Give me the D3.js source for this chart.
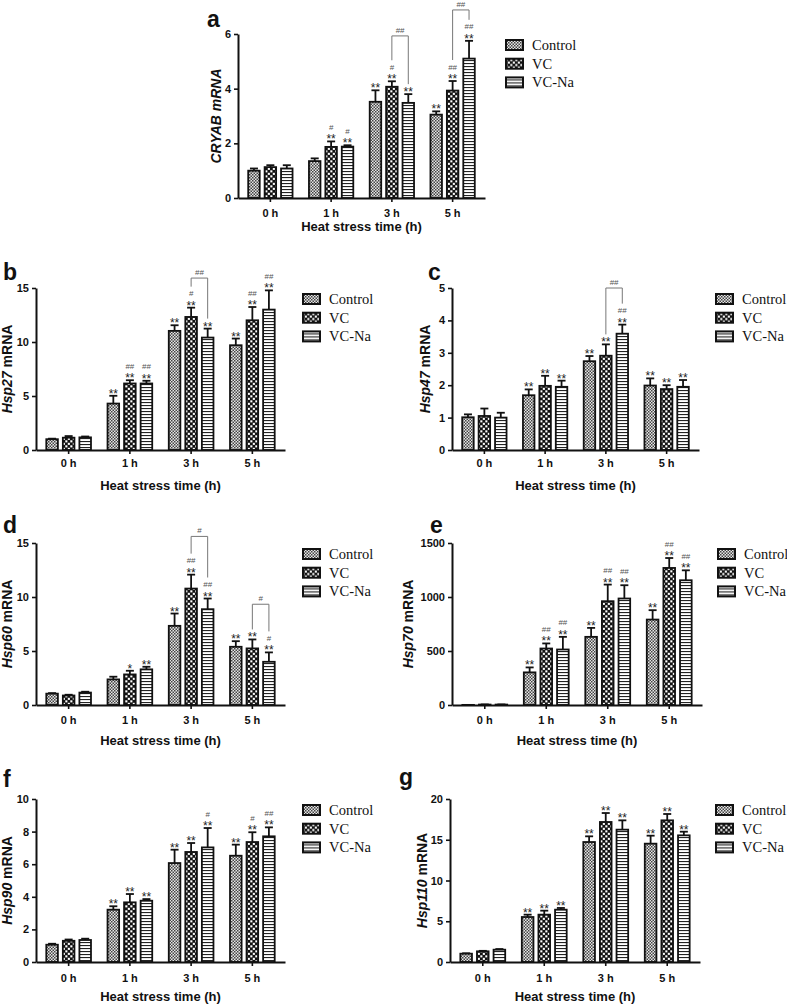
<!DOCTYPE html>
<html><head><meta charset="utf-8">
<script src="https://cdn.jsdelivr.net/npm/d3@7"></script>
<style>body{margin:0;background:#fff}svg{display:block}</style>
</head><body>
<svg id="chart" width="787" height="1004"></svg>
<script>
const groups = ["0 h","1 h","3 h","5 h"];
const series = ["Control","VC","VC-Na"];

// ---- Panel a : CRYAB ----
const aTicks = [0,2,4,6];
const aControl = [1.00,1.35,3.52,3.05], aControlErr = [0.08,0.10,0.42,0.12];
const aVC      = [1.13,1.87,4.07,3.93], aVCErr      = [0.07,0.20,0.20,0.35];
const aVCNa    = [1.08,1.88,3.48,5.10], aVCNaErr    = [0.12,0.05,0.32,0.65];
const aStars = [["","","**","**"],["","**","**","**"],["","**","**","**"]];
const aHash  = [["","","",""],["","#","#","##"],["","#","","##"]];
const aBrackets = [{group:"3 h",from:"VC",to:"VC-Na",top:5.93,label:"##"},{group:"5 h",from:"VC",to:"VC-Na",top:6.88,label:"##"}];

// ---- Panel b : Hsp27 ----
const bTicks = [0,5,10,15];
const bControl = [1.00,4.30,11.03,9.70], bControlErr = [0.05,0.72,0.52,0.62];
const bVC      = [1.14,6.16,12.32,12.01], bVCErr     = [0.15,0.30,0.86,1.23];
const bVCNa    = [1.17,6.16,10.41,13.00], bVCNaErr   = [0.08,0.25,0.83,1.78];
const bStars = [["","**","**","**"],["","**","**","**"],["","**","**","**"]];
const bHash  = [["","","",""],["","##","#","##"],["","##","","##"]];
const bBrackets = [{group:"3 h",from:"VC",to:"VC-Na",top:15.92,label:"##"}];

// ---- Panel c : Hsp47 ----
const cTicks = [0,1,2,3,4,5];
const cControl = [1.01,1.69,2.74,1.99], cControlErr = [0.09,0.18,0.16,0.22];
const cVC      = [1.05,1.98,2.91,1.88], cVCErr      = [0.23,0.31,0.35,0.12];
const cVCNa    = [1.00,1.95,3.59,1.95], cVCNaErr    = [0.15,0.19,0.28,0.21];
const cStars = [["","**","**","**"],["","**","**","**"],["","**","**","**"]];
const cHash  = [["","","",""],["","","",""],["","","##",""]];
const cBrackets = [{group:"3 h",from:"VC",to:"VC-Na",top:5.0,label:"##"}];

// ---- Panel d : Hsp60 ----
const dTicks = [0,5,10,15];
const dControl = [1.05,2.37,7.33,5.39], dControlErr = [0.05,0.25,1.14,0.52];
const dVC      = [0.88,2.83,10.78,5.24], dVCErr     = [0.07,0.34,1.29,0.83];
const dVCNa    = [1.15,3.30,8.87,4.00], dVCNaErr    = [0.08,0.24,0.99,0.87];
const dStars = [["","","**","**"],["","*","**","**"],["","**","**","**"]];
const dHash  = [["","","",""],["","","##",""],["","","##","#"]];
const dBrackets = [{group:"3 h",from:"VC",to:"VC-Na",top:15.61,label:"#"},{group:"5 h",from:"VC",to:"VC-Na",top:9.33,label:"#"}];

// ---- Panel e : Hsp70 ----
const eTicks = [0,500,1000,1500];
const eControl = [1,302,631,791], eControlErr = [0,46,83,87];
const eVC      = [4,523,961,1269], eVCErr     = [1,47,154,92];
const eVCNa    = [4,514,986,1155], eVCNaErr   = [1,117,123,92];
const eStars = [["","**","**","**"],["","**","**","**"],["","**","**","**"]];
const eHash  = [["","","",""],["","##","##","##"],["","##","##","##"]];
const eBrackets = [];

// ---- Panel f : Hsp90 ----
const fTicks = [0,2,4,6,8,10];
const fControl = [1.06,3.21,6.07,6.52], fControlErr = [0.06,0.21,0.82,0.68];
const fVC      = [1.30,3.66,6.75,7.36], fVCErr      = [0.08,0.51,0.55,0.60];
const fVCNa    = [1.35,3.76,7.03,7.71], fVCNaErr    = [0.08,0.10,1.19,0.55];
const fStars = [["","**","**","**"],["","**","**","**"],["","**","**","**"]];
const fHash  = [["","","",""],["","","","#"],["","","#","##"]];
const fBrackets = [];

// ---- Panel g : Hsp110 ----
const gTicks = [0,5,10,15,20];
const gControl = [1.02,5.52,14.72,14.52], gControlErr = [0.05,0.29,0.70,0.98];
const gVC      = [1.31,5.81,17.18,17.38], gVCErr      = [0.06,0.49,1.10,0.78];
const gVCNa    = [1.51,6.42,16.24,15.54], gVCNaErr    = [0.08,0.21,1.14,0.45];
const gStars = [["","**","**","**"],["","**","**","**"],["","**","**","**"]];
const gHash  = [["","","",""],["","","",""],["","","",""]];
const gBrackets = [];

const panels = [
  {letter:"a", gene:"CRYAB", allItalic:true, ticks:aTicks, vals:[aControl,aVC,aVCNa], errs:[aControlErr,aVCErr,aVCNaErr], stars:aStars, hash:aHash, brackets:aBrackets,
   L:{ax:238,yTop:34,y0:198,w:247,lx:505,ly:45,tickY:217,titleY:231,letX:207,letY:27,ylx:221}},
  {letter:"b", gene:"Hsp27", ticks:bTicks, vals:[bControl,bVC,bVCNa], errs:[bControlErr,bVCErr,bVCNaErr], stars:bStars, hash:bHash, brackets:bBrackets,
   L:{ax:36,yTop:288,y0:450,w:249,lx:302,ly:299,tickY:467,titleY:490,letX:3,letY:280,ylx:12}},
  {letter:"c", gene:"Hsp47", ticks:cTicks, vals:[cControl,cVC,cVCNa], errs:[cControlErr,cVCErr,cVCNaErr], stars:cStars, hash:cHash, brackets:cBrackets,
   L:{ax:452,yTop:288,y0:450,w:247,lx:715,ly:299,tickY:467,titleY:490,letX:428,letY:280,ylx:430}},
  {letter:"d", gene:"Hsp60", ticks:dTicks, vals:[dControl,dVC,dVCNa], errs:[dControlErr,dVCErr,dVCNaErr], stars:dStars, hash:dHash, brackets:dBrackets,
   L:{ax:36,yTop:543,y0:705,w:249,lx:302,ly:554,tickY:724,titleY:745,letX:3,letY:533,ylx:12}},
  {letter:"e", gene:"Hsp70", ticks:eTicks, vals:[eControl,eVC,eVCNa], errs:[eControlErr,eVCErr,eVCNaErr], stars:eStars, hash:eHash, brackets:eBrackets,
   L:{ax:452,yTop:543,y0:705,w:250,lx:717,ly:554,tickY:724,titleY:745,letX:430,letY:533,ylx:413}},
  {letter:"f", gene:"Hsp90", ticks:fTicks, vals:[fControl,fVC,fVCNa], errs:[fControlErr,fVCErr,fVCNaErr], stars:fStars, hash:fHash, brackets:fBrackets,
   L:{ax:36,yTop:799,y0:962,w:249,lx:302,ly:810,tickY:982,titleY:1001,letX:3,letY:787,ylx:12}},
  {letter:"g", gene:"Hsp110", ticks:gTicks, vals:[gControl,gVC,gVCNa], errs:[gControlErr,gVCErr,gVCNaErr], stars:gStars, hash:gHash, brackets:gBrackets,
   L:{ax:450,yTop:799,y0:962,w:250,lx:715,ly:810,tickY:982,titleY:1001,letX:399,letY:785,ylx:427}}
];

const svg = d3.select("#chart");
const SANS = "'Liberation Sans', Arial, sans-serif";
const SERIF = "'Liberation Serif', 'Times New Roman', serif";

// patterns
const defs = svg.append("defs");
const pc = defs.append("pattern").attr("id","pat0").attr("patternUnits","userSpaceOnUse").attr("width",3).attr("height",3);
pc.append("rect").attr("width",3).attr("height",3).attr("fill","#e6e6e6");
pc.append("rect").attr("x",0).attr("y",0).attr("width",1.5).attr("height",1.5).attr("fill","#444");
pc.append("rect").attr("x",1.5).attr("y",1.5).attr("width",1.5).attr("height",1.5).attr("fill","#444");
const pv = defs.append("pattern").attr("id","pat1").attr("patternUnits","userSpaceOnUse").attr("width",5).attr("height",5);
pv.append("rect").attr("width",5).attr("height",5).attr("fill","#111");
pv.append("rect").attr("x",0.3).attr("y",0.3).attr("width",2.1).attr("height",2.1).attr("fill","#fff");
pv.append("rect").attr("x",2.8).attr("y",2.8).attr("width",2.1).attr("height",2.1).attr("fill","#fff");
const pn = defs.append("pattern").attr("id","pat2").attr("patternUnits","userSpaceOnUse").attr("width",3).attr("height",3);
pn.append("rect").attr("width",3).attr("height",3).attr("fill","#fff");
pn.append("rect").attr("x",0).attr("y",0).attr("width",3).attr("height",1.1).attr("fill","#222");

function drawPanel(P){
  const L = P.L;
  const g = svg.append("g");
  const y = d3.scaleLinear().domain([0, P.ticks[P.ticks.length-1]]).range([L.y0, L.yTop]);
  const x0 = d3.scaleBand().domain(groups).range([L.ax, L.ax+L.w]).paddingOuter(0.033);
  const x1 = d3.scaleBand().domain(series).range([0, x0.bandwidth()]).paddingInner(0.3).paddingOuter(0.5);
  const bw = x1.bandwidth();
  const cx = (gr, s) => x0(gr) + x1(s) + bw/2;

  series.forEach((s, si) => {
    const rows = groups.map((gr, gi) => ({gr, v:P.vals[si][gi], e:P.errs[si][gi], st:P.stars[si][gi], h:P.hash[si][gi]}));
    const eg = g.append("g");
    eg.selectAll("line.stem").data(rows).join("line")
      .attr("x1", d => cx(d.gr, s)).attr("x2", d => cx(d.gr, s))
      .attr("y1", d => y(d.v)).attr("y2", d => y(d.v + d.e))
      .attr("stroke","#111").attr("stroke-width",1.8);
    eg.selectAll("line.cap").data(rows.filter(d => d.e > 0)).join("line")
      .attr("x1", d => cx(d.gr, s) - 4).attr("x2", d => cx(d.gr, s) + 4)
      .attr("y1", d => y(d.v + d.e)).attr("y2", d => y(d.v + d.e))
      .attr("stroke","#111").attr("stroke-width",1.8);
    g.append("g").selectAll("rect").data(rows).join("rect")
      .attr("x", d => x0(d.gr) + x1(s)).attr("width", bw)
      .attr("y", d => y(d.v)).attr("height", d => Math.max(0, y(0) - y(d.v)))
      .attr("fill", `url(#pat${si})`).attr("stroke","#111").attr("stroke-width",1.8);
    // significance markers: stars just above the error cap, hashes above the stars
    g.append("g").selectAll("text").data(rows.filter(d => d.st)).join("text")
      .attr("x", d => cx(d.gr, s)).attr("y", d => y(d.v + d.e) + 2)
      .attr("text-anchor","middle").attr("font-family",SANS)
      .attr("font-size",12).attr("fill","#222").text(d => d.st);
    g.append("g").selectAll("text").data(rows.filter(d => d.h)).join("text")
      .attr("x", d => cx(d.gr, s)).attr("y", d => y(d.v + d.e) - 11.5)
      .attr("text-anchor","middle").attr("font-family",SANS)
      .attr("font-size",8).attr("fill","#555").text(d => d.h);
  });

  const markTop = (gr, s) => {
    const si = series.indexOf(s), gi = groups.indexOf(gr);
    const t = y(P.vals[si][gi] + P.errs[si][gi]);
    return P.hash[si][gi] ? t - 21 : t - 10;
  };
  P.brackets.forEach(b => {
    const xa = cx(b.group, b.from), xb = cx(b.group, b.to), yt = y(b.top);
    g.append("path")
      .attr("d", `M${xa},${markTop(b.group,b.from)}V${yt}H${xb}V${markTop(b.group,b.to)}`)
      .attr("fill","none").attr("stroke","#777").attr("stroke-width",1);
    g.append("text").attr("x",(xa+xb)/2).attr("y",yt-3).attr("text-anchor","middle")
      .attr("font-family",SANS).attr("font-size",8).attr("fill","#555").text(b.label);
  });

  const ya = g.append("g").attr("transform",`translate(${L.ax},0)`)
    .call(d3.axisLeft(y).tickValues(P.ticks).tickFormat(d3.format("d")).tickSize(4).tickSizeOuter(0).tickPadding(3));
  const xa = g.append("g").attr("transform",`translate(0,${L.y0})`)
    .call(d3.axisBottom(x0).tickSize(4).tickSizeOuter(0).tickFormat(() => ""));
  [ya, xa].forEach(a => {
    a.select(".domain").attr("stroke","#111").attr("stroke-width",2);
    a.selectAll(".tick line").attr("stroke","#111").attr("stroke-width",1.6);
    a.selectAll("text").attr("font-family",SANS).attr("font-weight","bold").attr("font-size",11).attr("fill","#111");
  });
  xa.selectAll(".tick text").remove();
  g.append("g").selectAll("text").data(groups).join("text")
    .attr("x", d => x0(d) + x0.bandwidth()/2).attr("y", L.tickY)
    .attr("text-anchor","middle").attr("font-family",SANS).attr("font-weight","bold").attr("font-size",11).attr("fill","#111")
    .text(d => d);
  g.append("text").attr("x", L.ax + L.w/2).attr("y", L.titleY).attr("text-anchor","middle")
    .attr("font-family",SANS).attr("font-weight","bold").attr("font-size",13).attr("fill","#111")
    .text("Heat stress time (h)");

  const yl = g.append("text").attr("transform",`translate(${L.ylx},${(L.y0+L.yTop)/2}) rotate(-90)`)
    .attr("text-anchor","middle").attr("font-family",SANS).attr("font-weight","bold").attr("font-size",14).attr("fill","#111");
  yl.append("tspan").attr("font-style","italic").text(P.gene);
  yl.append("tspan").attr("font-style", P.allItalic ? "italic" : "normal").text(" mRNA");

  g.append("text").attr("x",L.letX).attr("y",L.letY).attr("font-family",SANS).attr("font-weight","bold")
    .attr("font-size",23).attr("fill","#111").text(P.letter);

  const lg = g.append("g").selectAll("g").data(series).join("g")
    .attr("transform", (d,i) => `translate(${L.lx},${L.ly + i*18.7})`);
  lg.append("rect").attr("x",1).attr("y",-5).attr("width",17).attr("height",10)
    .attr("fill",(d,i)=>`url(#pat${i})`).attr("stroke","#111").attr("stroke-width",2);
  lg.append("text").attr("x",27).attr("y",5).attr("font-family",SERIF).attr("font-size",14.5).attr("fill","#111").text(d => d);
}
panels.forEach(drawPanel);
</script>
</body></html>
